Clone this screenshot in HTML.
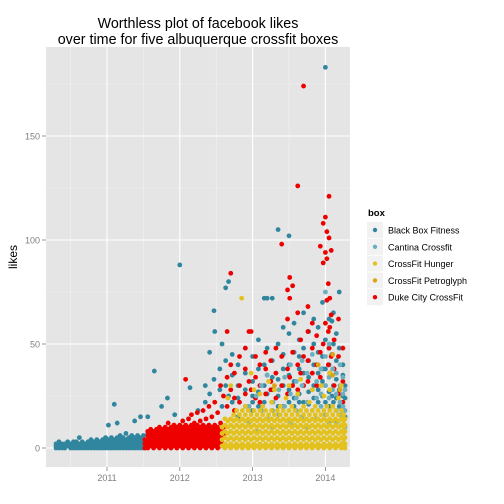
<!DOCTYPE html>
<html><head><meta charset="utf-8"><style>
body{margin:0;background:#fff;}
svg{display:block;font-family:"Liberation Sans",Arial,sans-serif;}
</style></head><body>
<svg id="chart" width="504" height="504" viewBox="0 0 504 504" xmlns="http://www.w3.org/2000/svg">
<text x="198" y="28" font-size="14.3" text-anchor="middle" fill="#000">Worthless plot of facebook likes</text>
<text x="198" y="44" font-size="14.3" text-anchor="middle" fill="#000">over time for five albuquerque crossfit boxes</text>
<rect x="46" y="47" width="304" height="420" fill="#e5e5e5"/>
<g id="grid"></g>
<g id="marks"></g>
<g id="axes"></g>
<text transform="translate(17,257) rotate(-90)" font-size="12" text-anchor="middle" fill="#000">likes</text>
<g>
<text x="368" y="216" font-size="9.5" font-weight="bold" fill="#000">box</text>
<g id="legend-items"></g>
</g>
</svg>
<script>
const boxes = ["Black Box Fitness","Cantina Crossfit","CrossFit Hunger","CrossFit Petroglyph","Duke City CrossFit"];
const colors = ["#31869f","#6cafc0","#e3c21f","#dea511","#ee0000"];
const yTicks = [0,50,100,150];
const yMinor = [25,75,125,175];
const xTicks = [2011,2012,2013,2014];
const xMinor = [2010.5,2011.5,2012.5,2013.5];
// [date (decimal year), [likes of posts]]
const blackBox = [[2010.30,[0,1,2]],[2010.34,[0,1,3]],[2010.38,[0,2]],[2010.42,[0,1,2]],[2010.46,[1,3]],[2010.50,[0,1,2]],[2010.54,[0,2,3]],[2010.58,[0,1,3]],[2010.62,[0,2,5]],[2010.66,[0,1,3]],[2010.70,[0,2]],[2010.74,[0,1,3]],[2010.78,[0,2,4]],[2010.82,[0,1,3]],[2010.86,[0,2,4]],[2010.90,[0,1,3]],[2010.94,[0,2,4]],[2010.98,[0,1,3,5]],[2011.02,[0,2,4,11]],[2011.06,[0,1,3,5]],[2011.10,[0,2,4,21]],[2011.14,[0,1,3,5,12]],[2011.18,[0,2,4,6]],[2011.22,[0,1,3,5]],[2011.26,[0,2,4,7]],[2011.30,[0,1,3,5]],[2011.34,[0,2,4,6]],[2011.38,[0,1,3,5,13]],[2011.42,[0,2,4,6]],[2011.46,[0,1,3,5,15]],[2011.50,[0,2,4,6]],[2011.56,[1,3,7,15]],[2011.65,[37]],[2011.75,[20]],[2011.83,[24]],[2011.93,[16]],[2012.00,[88]],[2012.14,[29]],[2012.25,[18]],[2012.35,[22,30]],[2012.41,[46,26]],[2012.47,[66,33]],[2012.48,[56]],[2012.55,[28,38]],[2012.58,[50,20]],[2012.63,[77,30,42]],[2012.67,[80,25]],[2012.72,[35,22,45]],[2012.80,[30,40,15,24]],[2012.90,[28,48,36,20]],[2013.00,[32,44,25,18,22]],[2013.08,[38,52,27,20]],[2013.16,[72,30,40,22]],[2013.20,[72,35,48,26]],[2013.27,[72,28,42,18,34]],[2013.35,[105,33,50,25,20]],[2013.42,[45,30,58,20,38]],[2013.50,[102,40,28,55,35,22]],[2013.57,[46,32,24,60,20]],[2013.64,[38,52,26,44,22]],[2013.70,[30,48,65,22,36]],[2013.77,[42,34,56,27,21]],[2013.84,[50,30,40,62,24]],[2013.90,[36,46,28,58,22]],[2013.96,[70,44,32,25,38]],[2014.00,[183,52,38,30,22]],[2014.05,[62,40,48,27,20]],[2014.09,[61,45,35,25]],[2014.11,[65,50,30,22]],[2014.15,[55,42,33,24]],[2014.19,[75,48,28,20]],[2014.24,[40,35,25,20]],[2014.27,[30,24,15]]];
const cantina = [[2012.95,[12,20]],[2013.05,[25,8]],[2013.12,[18,30]],[2013.20,[14,35]],[2013.28,[22,10]],[2013.36,[28,16]],[2013.44,[20,34]],[2013.52,[12,26,40]],[2013.60,[24,18,32]],[2013.68,[15,30,42]],[2013.75,[22,36,10]],[2013.82,[28,18,45]],[2013.88,[14,32,24]],[2013.94,[20,38,26]],[2014.00,[16,30,44,75]],[2014.05,[24,34,12,50]],[2014.10,[20,28,38]],[2014.15,[18,26,36,12]],[2014.20,[22,30,16,40]],[2014.24,[14,26,34,20]],[2014.27,[10,18,28]]];
const hunger = [[2012.58,[1,4,7,10]],[2012.62,[0,2,5,8,11,14]],[2012.66,[1,4,7,10,13,24]],[2012.70,[0,2,5,8,11,14,30]],[2012.74,[1,4,7,10,13,16]],[2012.78,[0,2,5,8,11,14,18]],[2012.82,[1,4,7,10,13,16]],[2012.85,[72]],[2012.86,[0,2,5,8,11,14,18]],[2012.90,[1,4,7,10,13,16,20]],[2012.94,[0,2,5,8,11,14,18]],[2012.98,[1,4,7,10,13,16,36]],[2013.02,[0,2,5,8,11,14,18,28]],[2013.06,[1,4,7,10,13,16]],[2013.10,[0,2,5,8,11,14,18,26]],[2013.14,[1,4,7,10,13,16,20]],[2013.18,[0,2,5,8,11,14,18]],[2013.22,[1,4,7,10,13,16,32]],[2013.26,[0,2,5,8,11,14,18,22]],[2013.30,[1,4,7,10,13,16,28]],[2013.34,[0,2,5,8,11,14,18]],[2013.38,[1,4,7,10,13,16,20]],[2013.42,[0,2,5,8,11,14,18]],[2013.46,[1,4,7,10,13,16,24]],[2013.50,[0,2,5,8,11,14,18,30]],[2013.54,[1,4,7,10,13,16,20]],[2013.58,[0,2,5,8,11,14,18]],[2013.62,[1,4,7,10,13,16,26]],[2013.66,[0,2,5,8,11,14,18,33]],[2013.70,[1,4,7,10,13,16,20]],[2013.74,[0,2,5,8,11,14,18]],[2013.78,[1,4,7,10,13,16,22]],[2013.82,[0,2,5,8,11,14,18,28]],[2013.86,[1,4,7,10,13,16,20]],[2013.90,[0,2,5,8,11,14,18]],[2013.94,[1,4,7,10,13,16,30]],[2013.98,[0,2,5,8,11,14,18,25]],[2014.02,[1,4,7,10,13,16,20]],[2014.06,[0,2,5,8,11,14,18,28,36]],[2014.10,[1,4,7,10,13,16,20]],[2014.14,[0,2,5,8,11,14,18]],[2014.18,[1,4,7,10,13,16,24]],[2014.22,[0,2,5,8,11,14,18,30]],[2014.25,[1,4,7,10,13,16]],[2014.27,[0,2,5,8,11,14]]];
const petroglyph = [[2013.30,[30]],[2013.90,[40]],[2014.10,[35,45]],[2014.20,[28]]];
const duke = [[2011.52,[0,2,4]],[2011.56,[0,2,4,6,8]],[2011.60,[1,3,5,7,9]],[2011.64,[0,2,4,6,8]],[2011.68,[1,3,5,7,9]],[2011.72,[0,2,4,6,8,10]],[2011.76,[1,3,5,7,9]],[2011.80,[0,2,4,6,8,10]],[2011.84,[1,3,5,7,9,12]],[2011.88,[0,2,4,6,8,10]],[2011.92,[1,3,5,7,9,11]],[2011.96,[0,2,4,6,8,10]],[2012.00,[1,3,5,7,9,11]],[2012.04,[0,2,4,6,8,10,13]],[2012.08,[1,3,5,7,9,11,33]],[2012.12,[0,2,4,6,8,10,14]],[2012.16,[1,3,5,7,9,11,16]],[2012.20,[0,2,4,6,8,10,12]],[2012.24,[1,3,5,7,9,11,17]],[2012.28,[0,2,4,6,8,10,13]],[2012.32,[1,3,5,7,9,11,18]],[2012.36,[0,2,4,6,8,10,14]],[2012.40,[1,3,5,7,9,11,20]],[2012.44,[0,2,4,6,8,10,15]],[2012.48,[1,3,5,7,9,11,22]],[2012.52,[0,2,4,6,8,10,17]],[2012.56,[1,3,5,7,9,12,30]],[2012.60,[2,6,10,25]],[2012.65,[56,20,34]],[2012.70,[84,28,40]],[2012.75,[24,36,18]],[2012.82,[30,44,22]],[2012.90,[26,38,48]],[2012.95,[56,32,20]],[2012.98,[56,28]],[2013.04,[34,44,24]],[2013.10,[30,40,22]],[2013.18,[38,26,46]],[2013.25,[32,42,28]],[2013.32,[36,48,24]],[2013.40,[30,44,98]],[2013.48,[76,62,38,26]],[2013.51,[82,72,34]],[2013.55,[78,46,30]],[2013.62,[126,65,40,28]],[2013.66,[52,36]],[2013.70,[174,44,30]],[2013.76,[68,42,56,32]],[2013.82,[48,36,60]],[2013.88,[40,54,30]],[2013.93,[97,46,34]],[2013.97,[89,108,50]],[2014.00,[94,111,60]],[2014.02,[91,71,104]],[2014.04,[79,56,40]],[2014.05,[121,101,48]],[2014.06,[72,58,36]],[2014.08,[95,64,44]],[2014.12,[52,38,30]],[2014.18,[62,44,26]],[2014.24,[48,32,22]]];
const seriesData = [blackBox, duke, cantina, hunger, petroglyph];
const seriesIdx = [0,4,1,2,3];

const NS="http://www.w3.org/2000/svg";
const X0=46,X1=350,Y0=47,Y1=467;
function xs(d){return 107+(d-2011)*72.8;}
function ys(v){return 448-v*2.08;}
function mk(tag,attrs,parent){const e=document.createElementNS(NS,tag);for(const k in attrs)e.setAttribute(k,attrs[k]);parent.appendChild(e);return e;}
const grid=document.getElementById('grid');
yMinor.forEach(v=>{const l=mk('line',{x1:X0,x2:X1,y1:ys(v),y2:ys(v),stroke:'#f2f2f2','stroke-width':0.6},grid);

});
xMinor.forEach(v=>{const l=mk('line',{x1:xs(v),x2:xs(v),y1:Y0,y2:Y1,stroke:'#f2f2f2','stroke-width':0.6},grid);

});
yTicks.forEach(v=>{const l=mk('line',{x1:X0,x2:X1,y1:ys(v),y2:ys(v),stroke:'#fff','stroke-width':1.1},grid);

});
xTicks.forEach(v=>{const l=mk('line',{x1:xs(v),x2:xs(v),y1:Y0,y2:Y1,stroke:'#fff','stroke-width':1.1},grid);

});
const axes=document.getElementById('axes');
yTicks.forEach(v=>{const t=mk('line',{x1:42,x2:46,y1:ys(v),y2:ys(v),stroke:'#7f7f7f','stroke-width':0.8},axes);


const tx=mk('text',{x:40,y:ys(v)+3.3,'font-size':9,'text-anchor':'end',fill:'#7f7f7f'},axes);tx.textContent=v;

});
xTicks.forEach(v=>{const t=mk('line',{x1:xs(v),x2:xs(v),y1:467,y2:471,stroke:'#7f7f7f','stroke-width':0.8},axes);


const tx=mk('text',{x:xs(v),y:481,'font-size':9,'text-anchor':'middle',fill:'#7f7f7f'},axes);tx.textContent=v;

});
const marks=document.getElementById('marks');
seriesData.forEach((s,k)=>{const col=colors[seriesIdx[k]];s.forEach(([d,vals])=>{vals.forEach(v=>{
const c=mk('circle',{cx:xs(d),cy:ys(v),r:2.4,fill:col},marks);

});});});
const li=document.getElementById('legend-items');
boxes.forEach((b,i)=>{const y=222+i*16.8;
const r=mk('rect',{x:367,y:y,width:16,height:16,fill:'#f2f2f2'},li);


const c=mk('circle',{cx:375,cy:y+8,r:2.2,fill:colors[i]},li);


const t=mk('text',{x:388,y:y+11.5,'font-size':9,fill:'#000'},li);t.textContent=b;

});
</script>
</body></html>
